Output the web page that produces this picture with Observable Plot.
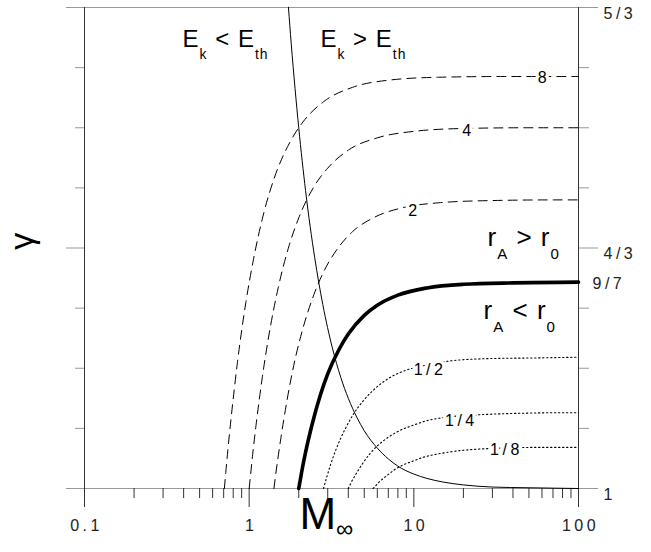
<!DOCTYPE html>
<html>
<head>
<meta charset="utf-8">
<script src="https://cdn.jsdelivr.net/npm/d3@7"></script>
<script src="https://cdn.jsdelivr.net/npm/@observablehq/plot@0.6"></script>
<style>
  html, body { margin: 0; padding: 0; background: #fff; }
  #chart svg { display: block; }
</style>
</head>
<body>
<div id="chart"></div>
<script>
// Critical adiabatic index γ against upstream Mach number M∞.
// Each family curve is [M∞, γ]; the label gives the ratio r_A / r_0.

const curveQ8 = [[0.707,1],[0.721,1.022],[0.742,1.053],[0.778,1.099],[0.849,1.175],[0.955,1.258],[1.061,1.317],[1.237,1.385],[1.414,1.429],[1.768,1.480],[2.121,1.508],[2.828,1.536],[4.243,1.556],[7.071,1.566],[14.14,1.570],[35.36,1.571],[100,1.571]];
const curveQ4 = [[1,1],[1.02,1.019],[1.05,1.047],[1.1,1.087],[1.2,1.153],[1.35,1.226],[1.5,1.278],[1.75,1.337],[2,1.375],[2.5,1.420],[3,1.444],[4,1.469],[6,1.486],[10,1.495],[20,1.499],[50,1.500],[100,1.500]];
const curveQ2 = [[1.414,1],[1.443,1.016],[1.485,1.037],[1.556,1.069],[1.697,1.122],[1.909,1.181],[2.121,1.222],[2.475,1.269],[2.828,1.300],[3.536,1.336],[4.243,1.356],[5.657,1.375],[8.485,1.389],[14.14,1.396],[28.28,1.399],[70.71,1.400],[100,1.400]];
const curveQ1 = [[2,1],[2.04,1.011],[2.1,1.027],[2.2,1.050],[2.4,1.087],[2.7,1.129],[3,1.159],[3.5,1.192],[4,1.214],[5,1.240],[6,1.254],[8,1.268],[12,1.278],[20,1.283],[40,1.285],[100,1.286]];
const curveQhalf = [[2.828,1],[2.885,1.007],[2.970,1.017],[3.111,1.032],[3.394,1.056],[3.818,1.082],[4.243,1.101],[4.950,1.122],[5.657,1.136],[7.071,1.153],[8.485,1.162],[11.31,1.170],[16.97,1.177],[28.28,1.180],[56.57,1.181],[100,1.182]];
const curveQquarter = [[4,1],[4.08,1.004],[4.2,1.010],[4.4,1.018],[4.8,1.032],[5.4,1.048],[6,1.059],[7,1.071],[8,1.079],[10,1.088],[12,1.094],[16,1.099],[24,1.102],[40,1.104],[80,1.105],[100,1.105]];
const curveQeighth = [[5.657,1],[5.770,1.002],[5.940,1.005],[6.223,1.010],[6.788,1.017],[7.637,1.026],[8.485,1.032],[9.900,1.038],[11.31,1.043],[14.14,1.048],[16.97,1.051],[22.63,1.054],[33.94,1.056],[56.57,1.057],[100,1.057]];

// Boundary where kinetic energy equals thermal energy
const energyBoundary = [[1.732,1.667],[1.8,1.617],[1.9,1.554],[2,1.500],[2.2,1.413],[2.5,1.320],[2.8,1.255],[3.2,1.195],[3.6,1.154],[4,1.125],[4.5,1.099],[5,1.080],[6,1.056],[7,1.041],[8,1.031],[10,1.020],[12,1.014],[15,1.009],[20,1.005],[30,1.002],[50,1.001],[100,1.000]];

// Curve labels
const curveLabelText = ["8", "4", "2", "1/2", "1/4", "1/8"];
const curveLabelMach = [60, 20.9, 9.8, 12.2, 18.9, 35.5];
const curveLabelGamma = [1.569, 1.495, 1.385, 1.164, 1.094, 1.053];

// Region labels (left-anchored)
const regionText = ["E_{k} < E_{th}", "E_{k} > E_{th}", "r_{A} > r_{0}", "r_{A} < r_{0}"];
const regionMach = [0.394, 2.71, 28.0, 26.5];
const regionGamma = [1.622, 1.622, 1.348, 1.247];
const regionSize = [24, 24, 26, 26];

// Axes
const machMajorTicks = [0.1, 1, 10, 100];
const machTickLabels = ["0.1", "1", "10", "100"];
const machMinorTicks = [0.2,0.3,0.4,0.5,0.6,0.7,0.8,0.9, 2,3,4,5,6,7,8,9, 20,30,40,50,60,70,80,90];
const gammaMajorTicks = [1, 4/3, 5/3];
const gammaMinorTicks = [13/12, 7/6, 5/4, 17/12, 3/2, 19/12];
const gammaTickValues = [1, 9/7, 4/3, 5/3];
const gammaTickLabels = ["1", "9/7", "4/3", "5/3"];

const xy = {x: d => d[0], y: d => d[1]};
const dashed = {...xy, stroke: "black", strokeWidth: 1, strokeDasharray: "9,6", curve: "monotone-x"};
const dotted = {...xy, stroke: "black", strokeWidth: 1.1, strokeDasharray: "1.3,2.7", curve: "monotone-x"};
const noText = () => "";

const region = (i) => Plot.text([i], {
  x: i => regionMach[i], y: i => regionGamma[i], text: i => regionText[i],
  textAnchor: "start", fontSize: regionSize[i], fill: "black"
});

const chart = Plot.plot({
  width: 651,
  height: 552,
  marginLeft: 84,
  marginRight: 73,
  marginTop: 7,
  marginBottom: 64,
  style: {fontFamily: "Arial, 'Liberation Sans', sans-serif", background: "white", color: "black", overflow: "visible"},
  x: {type: "log", domain: [0.1, 100]},
  y: {domain: [1, 5/3]},
  marks: [
    // frame lines
    Plot.ruleY([1, 5/3], {stroke: "#999", strokeWidth: 1}),
    Plot.ruleX([0.1, 100], {stroke: "#333", strokeWidth: 1}),
    // y ticks, both sides
    Plot.axisY({anchor: "left", ticks: gammaMinorTicks, tickSize: 9, tickFormat: noText, label: null, stroke: "#999"}),
    Plot.axisY({anchor: "left", ticks: gammaMajorTicks, tickSize: 18, tickFormat: noText, label: null, stroke: "#999"}),
    Plot.axisY({anchor: "right", ticks: gammaMinorTicks, tickSize: 10, tickFormat: noText, label: null, stroke: "#999"}),
    Plot.axisY({anchor: "right", ticks: gammaMajorTicks, tickSize: 19, tickFormat: noText, label: null, stroke: "#999"}),
    // x ticks
    Plot.axisX({anchor: "bottom", ticks: machMinorTicks, tickSize: 10, tickFormat: noText, label: null, stroke: "#333"}),
    Plot.axisX({anchor: "bottom", ticks: machMajorTicks, tickSize: 19, tickFormat: noText, label: null, stroke: "#333"}),
    // tick labels
    Plot.text(machMajorTicks, {x: d => d, text: (d, i) => machTickLabels[i], frameAnchor: "bottom", dy: 42, dx: 2, fontSize: 16, fill: "#222"}),
    Plot.text(gammaTickValues.filter((d, i) => gammaTickLabels[i] !== "9/7"), {
      y: d => d, text: d => gammaTickLabels[gammaTickValues.indexOf(d)],
      frameAnchor: "right", textAnchor: "start", dx: 25, dy: 6, fontSize: 16, fill: "#222"}),
    Plot.text([9/7], {y: d => d, text: () => gammaTickLabels[1], frameAnchor: "right", textAnchor: "start", dx: 14, dy: 2, fontSize: 16, fill: "#222"}),

    // family of curves
    Plot.line(curveQ8, dashed),
    Plot.line(curveQ4, dashed),
    Plot.line(curveQ2, dashed),
    Plot.line(curveQhalf, dotted),
    Plot.line(curveQquarter, dotted),
    Plot.line(curveQeighth, dotted),
    Plot.line(curveQ1, {...xy, stroke: "black", strokeWidth: 3.6, curve: "monotone-x"}),
    Plot.line(energyBoundary, {...xy, stroke: "black", strokeWidth: 1, curve: "monotone-x"}),

    // curve labels with white knockout
    Plot.text(curveLabelText, {
      x: (d, i) => curveLabelMach[i], y: (d, i) => curveLabelGamma[i], text: d => d,
      fontSize: 16, fill: "black", stroke: "white", strokeWidth: 7, dx: 2
    }),

    // region labels
    region(0), region(1), region(2), region(3),

    // axis titles (γ lies on its side)
    Plot.text(["γ"], {frameAnchor: "left", y: 1.331, dx: -62, rotate: -90, fontSize: 34, text: d => d, fill: "black"}),
    Plot.text(["M_{∞}"], {x: 2.02, frameAnchor: "bottom", dy: 40, textAnchor: "start", fontSize: 44, text: d => d, fill: "black"})
  ]
});

document.getElementById("chart").append(chart);

// Subscripts written as _{...} become lowered tspans; numeric labels are spaced out
const subFormat = {"M_{∞}": {size: 0.55, shift: 0.2}};
const SVGNS = "http://www.w3.org/2000/svg";
chart.querySelectorAll("text").forEach(t => {
  const s = t.textContent;
  if (/^[\d./]+$/.test(s)) t.style.letterSpacing = "3.5px";
  if (!s.includes("_{")) return;
  const fs = parseFloat(getComputedStyle(t).fontSize);
  const fmt = subFormat[s] || {size: 0.58, shift: 0.5};
  const shift = fmt.shift * fs;
  if (s.startsWith("E_") || s.startsWith("r_")) t.style.letterSpacing = "1px";
  t.textContent = "";
  let lowered = false;
  for (const part of s.split(/(_\{[^}]*\})/)) {
    if (!part) continue;
    const ts = document.createElementNS(SVGNS, "tspan");
    if (part.startsWith("_{")) {
      ts.textContent = part.slice(2, -1);
      ts.setAttribute("font-size", fmt.size * fs);
      ts.setAttribute("dy", shift);
      lowered = true;
    } else {
      ts.textContent = part;
      if (lowered) { ts.setAttribute("dy", -shift); lowered = false; }
    }
    t.append(ts);
  }
});
</script>
</body>
</html>
